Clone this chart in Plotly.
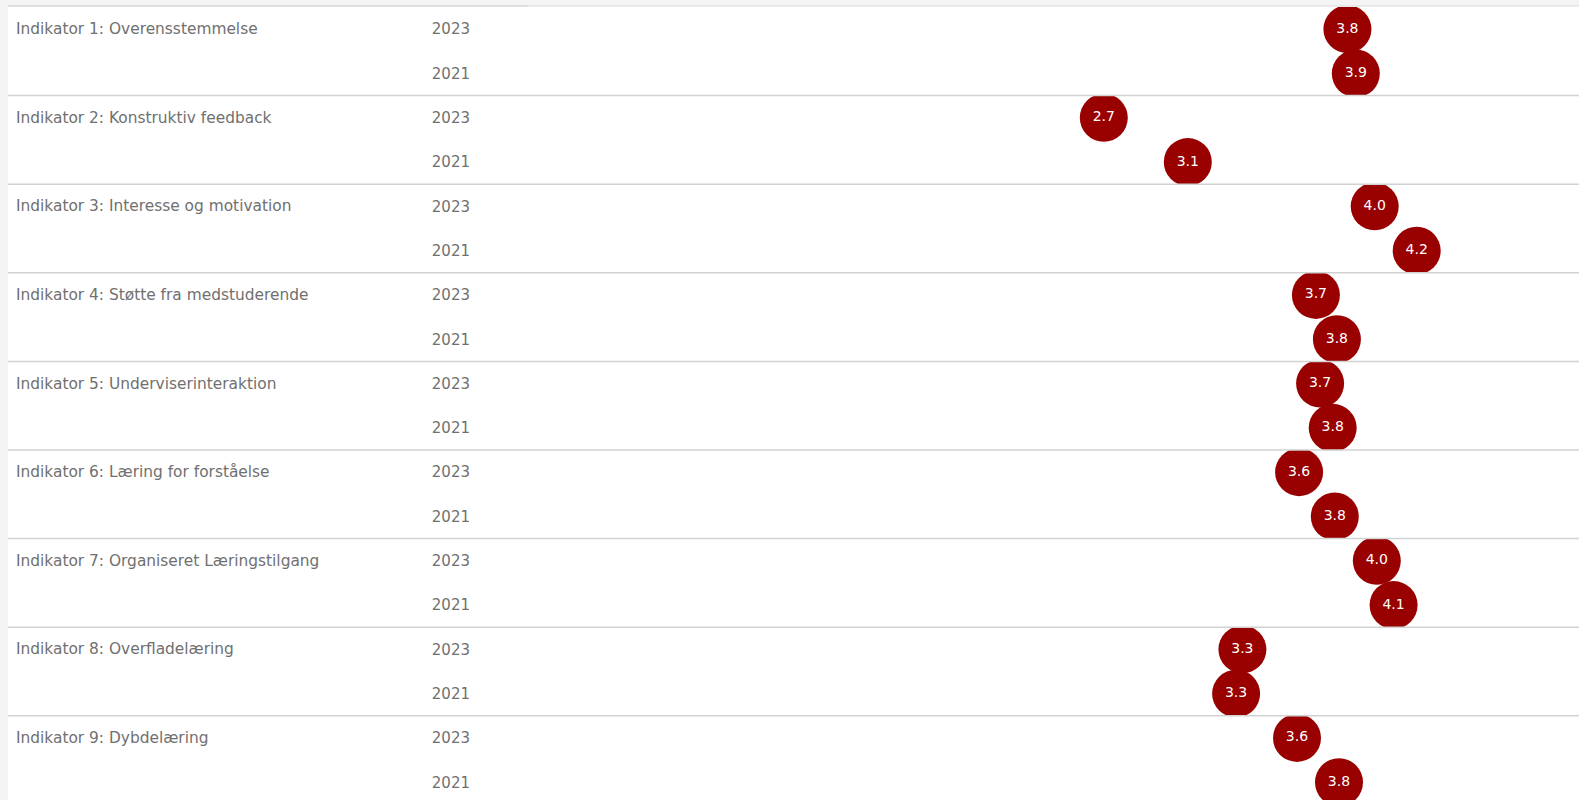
import plotly.graph_objects as go

indicators = [
    "Indikator 1: Overensstemmelse",
    "Indikator 2: Konstruktiv feedback",
    "Indikator 3: Interesse og motivation",
    "Indikator 4: Støtte fra medstuderende",
    "Indikator 5: Underviserinteraktion",
    "Indikator 6: Læring for forståelse",
    "Indikator 7: Organiseret Læringstilgang",
    "Indikator 8: Overfladelæring",
    "Indikator 9: Dybdelæring",
]
years = ["2023", "2021"]
values_2023 = [3.84, 2.68, 3.97, 3.69, 3.71, 3.61, 3.98, 3.34, 3.60]
values_2021 = [3.88, 3.08, 4.17, 3.79, 3.77, 3.78, 4.06, 3.31, 3.80]

W, H = 1579, 800
ML, MT = 8, 6
PW, PH = W - ML, H - MT
ROW = 88.6
ROW0 = 7.0
PLOT_LEFT = 528
X0_PX, SLOPE = 541.0, 210.0
TXT = "#707070"

def ypaper(px):
    return (H - px) / PH

xdom0 = (PLOT_LEFT - ML) / PW
xrange = [(PLOT_LEFT - X0_PX) / SLOPE, (W - X0_PX) / SLOPE]

fig = go.Figure()
layout = dict(
    width=W, height=H,
    margin=dict(l=ML, r=0, t=MT, b=0),
    paper_bgcolor="#f4f4f4",
    plot_bgcolor="white",
    showlegend=False,
    font=dict(family="DejaVu Sans", color=TXT, size=15),
)
shapes = [
    dict(type="rect", xref="paper", yref="paper", x0=0, x1=1, y0=0, y1=1,
         fillcolor="white", line=dict(width=0), layer="below"),
    dict(type="line", xref="paper", yref="paper", x0=0, x1=xdom0, y0=1, y1=1,
         line=dict(color="#d6d6d6", width=1.5)),
    dict(type="line", xref="paper", yref="paper", x0=xdom0, x1=1, y0=1, y1=1,
         line=dict(color="#e4e4e4", width=1.5)),
]
annotations = []

for i, name in enumerate(indicators):
    k = i + 1
    sfx = "" if k == 1 else str(k)
    top = ROW0 + ROW * i
    bot = top + ROW
    ylow = -0.5
    if bot > H:
        ylow = -0.5 + (bot - H) * 2 / ROW
        bot = H
    fig.add_trace(go.Scatter(
        x=[values_2023[i], values_2021[i]],
        y=[1, 0],
        mode="markers+text",
        marker=dict(size=48, color="#990000", line=dict(width=0)),
        texttemplate="%{x:.1f}",
        textposition="middle center",
        textfont=dict(color="white", size=14, family="DejaVu Sans"),
        cliponaxis=True,
        hoverinfo="skip",
        xaxis="x" + sfx, yaxis="y" + sfx,
    ))
    layout["xaxis" + sfx] = dict(domain=[xdom0, 1], range=xrange, visible=False,
                                 anchor="y" + sfx, fixedrange=True)
    layout["yaxis" + sfx] = dict(domain=[ypaper(bot), ypaper(top)], range=[ylow, 1.5],
                                 anchor="x" + sfx, tickvals=[1, 0], ticktext=years,
                                 showgrid=False, zeroline=False, showline=False,
                                 ticks="", ticklabelstandoff=57,
                                 tickfont=dict(size=15, color=TXT, family="DejaVu Sans"),
                                 fixedrange=True)
    annotations.append(dict(
        text=name, xref="paper", x=(14 - ML) / PW, yref="y" + sfx, y=1,
        xanchor="left", yanchor="middle", showarrow=False,
        font=dict(size=15.4, color=TXT, family="DejaVu Sans"),
    ))
    if i > 0:
        shapes.append(dict(type="line", xref="paper", yref="paper", x0=0, x1=1,
                           y0=ypaper(top), y1=ypaper(top),
                           line=dict(color="#d2d2d2", width=1.5)))

layout["shapes"] = shapes
layout["annotations"] = annotations
fig.update_layout(**layout)

fig.write_html("out.html", config={"displayModeBar": False},
               post_script="document.body.style.margin='0';document.body.style.overflow='hidden';")
